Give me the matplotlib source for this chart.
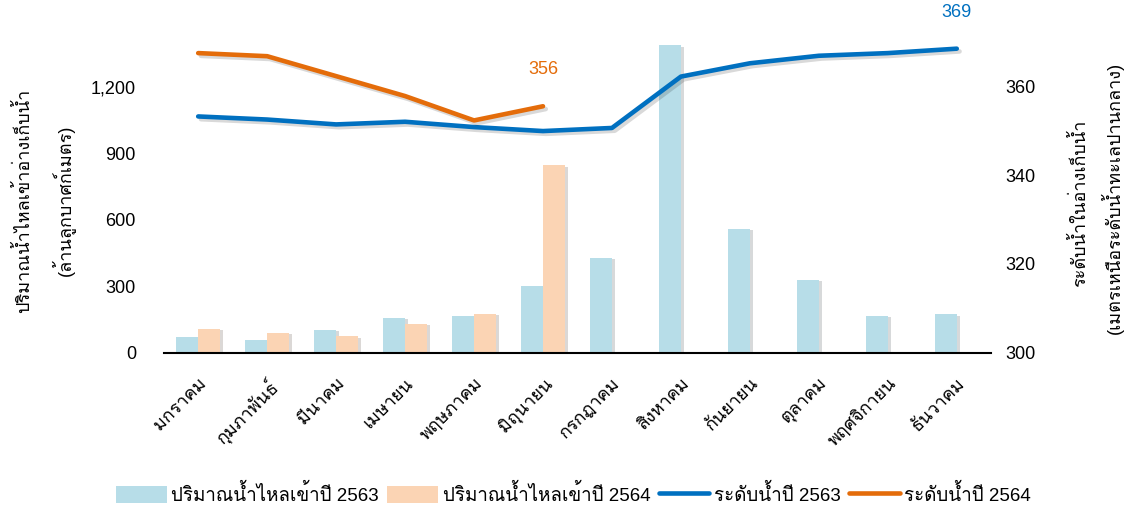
import numpy as np
import matplotlib
matplotlib.use('Agg')
import matplotlib.pyplot as plt
import matplotlib.patheffects as pe
from matplotlib import font_manager
from matplotlib.ft2font import FT2Font

# %% data
months = ['มกราคม', 'กุมภาพันธ์', 'มีนาคม', 'เมษายน', 'พฤษภาคม', 'มิถุนายน',
          'กรกฎาคม', 'สิงหาคม', 'กันยายน', 'ตุลาคม', 'พฤศจิกายน', 'ธันวาคม']
inflow_2563 = [71, 56, 104, 158, 163, 302, 427, 1388, 560, 329, 167, 172]
inflow_2564 = [107, 89, 74, 130, 176, 846]
level_2563 = [353.3, 352.6, 351.5, 352.1, 350.9, 350.0, 350.7, 362.3, 365.3, 367.0, 367.6, 368.6]
level_2564 = [367.6, 366.9, 362.4, 357.9, 352.4, 355.6]

label_inflow_63 = 'ปริมาณน้ำไหลเข้าปี 2563'
label_inflow_64 = 'ปริมาณน้ำไหลเข้าปี 2564'
label_level_63 = 'ระดับน้ำปี 2563'
label_level_64 = 'ระดับน้ำปี 2564'

# %% fonts: find whatever has Thai glyphs
thai = []
for f in font_manager.fontManager.ttflist:
    try:
        if 0x0E01 in FT2Font(f.fname).get_charmap() and f.name not in thai:
            thai.append(f.name)
    except Exception:
        pass
plt.rcParams['font.family'] = ['Liberation Sans'] + thai + ['DejaVu Sans']
plt.rcParams['font.size'] = 13

c_bar63 = '#B7DDE8'
c_bar64 = '#FBD4B4'
c_line63 = '#0070C0'
c_line64 = '#E46C0A'

bar_fx = [pe.SimplePatchShadow(offset=(2, -1), alpha=0.2), pe.Normal()]
line_fx = [pe.SimpleLineShadow(offset=(2, -2), alpha=0.15), pe.Normal()]

# %% plot
fig = plt.figure(figsize=(11.29, 5.08), dpi=100)
ax = fig.add_axes([0.145, 0.306, 0.733, 0.654])
ax2 = ax.twinx()

x = np.arange(len(months))
w = 0.32
ax.bar(x - w/2, inflow_2563, w, color=c_bar63, label=label_inflow_63, path_effects=bar_fx)
ax.bar(x[:len(inflow_2564)] + w/2, inflow_2564, w, color=c_bar64, label=label_inflow_64,
       path_effects=bar_fx)

ax2.plot(x, level_2563, color=c_line63, lw=3.3, solid_capstyle='round',
         label=label_level_63, path_effects=line_fx)
ax2.plot(x[:len(level_2564)], level_2564, color=c_line64, lw=3.3, solid_capstyle='round',
         label=label_level_64, path_effects=line_fx)

ax2.annotate(f'{level_2564[-1]:.0f}', (x[len(level_2564)-1], level_2564[-1]),
             xytext=(0, 20), textcoords='offset points', ha='center', va='bottom',
             color=c_line64, fontsize=13)
ax2.annotate(f'{level_2563[-1]:.0f}', (x[-1], level_2563[-1]),
             xytext=(0, 20), textcoords='offset points', ha='center', va='bottom',
             color=c_line63, fontsize=13)

ax.set_xlim(-0.5, len(months) - 0.5)
ax.set_ylim(0, 1500)
ax.set_yticks([0, 300, 600, 900, 1200])
ax.set_yticklabels(['0', '300', '600', '900', '1,200'])
ax2.set_ylim(300, 375)
ax2.set_yticks([300, 320, 340, 360])

ax.set_xticks(x)
ax.set_xticklabels(months, rotation=45, ha='right', rotation_mode='anchor')
ax.tick_params(axis='x', length=0, pad=16)
ax.tick_params(axis='y', length=0, pad=20)
ax2.tick_params(axis='y', length=0, pad=10)

for a in (ax, ax2):
    for s in ('top', 'left', 'right'):
        a.spines[s].set_visible(False)
ax2.spines['bottom'].set_visible(False)
ax.spines['bottom'].set_linewidth(1.5)
ax.spines['bottom'].set_color('black')

fig.text(0.021, 0.605, 'ปริมาณน้ำไหลเข้าอ่างเก็บน้ำ', rotation=90, ha='center', va='center', fontsize=13)
fig.text(0.056, 0.605, '(ล้านลูกบาศก์เมตร)', rotation=90, ha='center', va='center', fontsize=13)
fig.text(0.956, 0.60, 'ระดับน้ำในอ่างเก็บน้ำ', rotation=90, ha='center', va='center', fontsize=13)
fig.text(0.985, 0.61, '(เมตรเหนือระดับน้ำทะเลปานกลาง)', rotation=90, ha='center', va='center', fontsize=13)

h1, l1 = ax.get_legend_handles_labels()
h2, l2 = ax2.get_legend_handles_labels()
leg = fig.legend(h1 + h2, l1 + l2, loc='center', bbox_to_anchor=(0.508, 0.027), ncol=4,
                 frameon=False, handlelength=2.7, handleheight=1.0, handletextpad=0.25,
                 columnspacing=0.45, fontsize=13.5)
for h in leg.legend_handles:
    h.set_path_effects([])

plt.savefig('out.png', dpi=100)
